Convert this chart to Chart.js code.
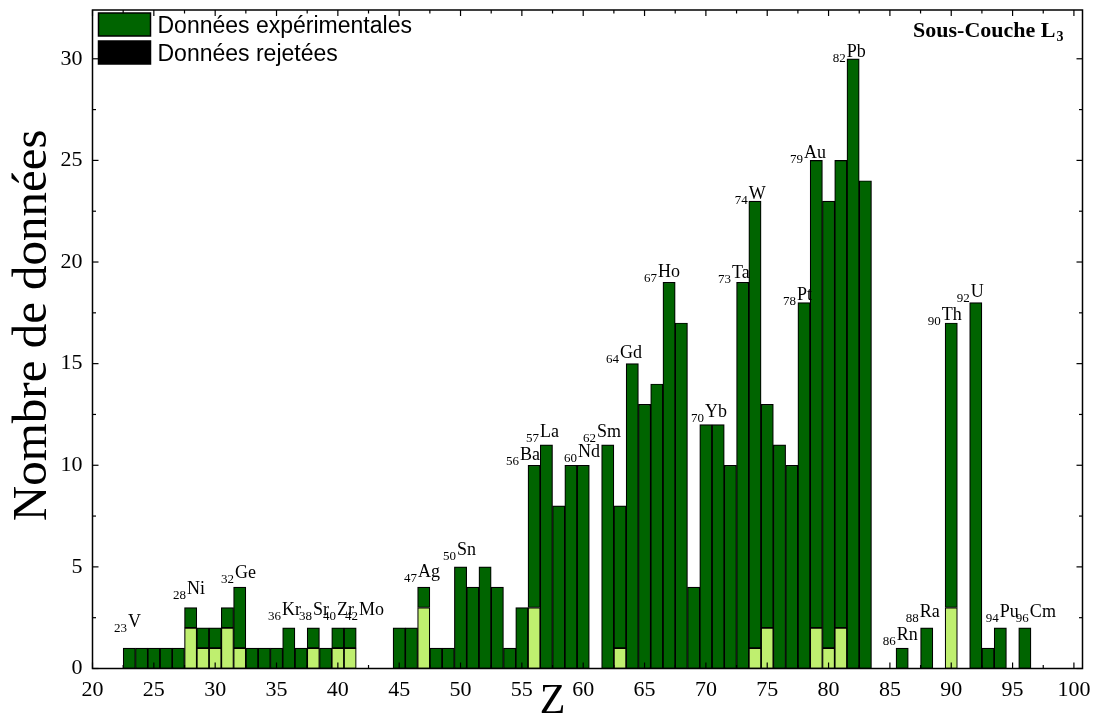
<!DOCTYPE html>
<html>
<head>
<meta charset="utf-8">
<script src="https://cdn.jsdelivr.net/npm/chart.js@4.4.1/dist/chart.umd.min.js"></script>
<style>
  html, body { margin: 0; padding: 0; background: #fff; }
</style>
</head>
<body>
<canvas id="chart" width="1096" height="715"></canvas>
<script>
// -- DATA --
// atomic numbers that have data
const zValues = [
  23, 24, 25, 26, 27, 28, 29, 30, 31, 32, 33, 34, 35, 36, 37, 38, 39, 40, 41,
  45, 46, 47, 48, 49, 50, 51, 52, 53, 54, 55, 56, 57, 58, 59, 60,
  62, 63, 64, 65, 66, 67, 68, 69, 70, 71, 72, 73, 74, 75, 76, 77, 78, 79, 80, 81, 82, 83,
  86, 88, 90, 92, 93, 94, 96
];
// total number of data per element
const totalCounts = [
  1, 1, 1, 1, 1, 3, 2, 2, 3, 4, 1, 1, 1, 2, 1, 2, 1, 2, 2,
  2, 2, 4, 1, 1, 5, 4, 5, 4, 1, 3, 10, 11, 8, 10, 10,
  11, 8, 15, 13, 14, 19, 17, 4, 12, 12, 10, 19, 23, 13, 11, 10, 18, 25, 23, 25, 30, 24,
  1, 2, 17, 18, 1, 2, 2
];
// rejected data (light green part, at the bottom of the bar)
const rejectedCounts = [
  0, 0, 0, 0, 0, 2, 1, 1, 2, 1, 0, 0, 0, 0, 0, 1, 0, 1, 1,
  0, 0, 3, 0, 0, 0, 0, 0, 0, 0, 0, 3, 0, 0, 0, 0,
  0, 1, 0, 0, 0, 0, 0, 0, 0, 0, 0, 0, 1, 2, 0, 0, 0, 2, 1, 2, 0, 0,
  0, 0, 3, 0, 0, 0, 0
];
const xTicks = [20, 25, 30, 35, 40, 45, 50, 55, 60, 65, 70, 75, 80, 85, 90, 95, 100];
const yTicks = [0, 5, 10, 15, 20, 25, 30];
const legendLabels = ["Données expérimentales", "Données rejetées"];

// element labels: atomic number, symbol, anchor (x, y) in axis units
const elementLabels = [
  { z: 23, s: "V", x: 22.89, y: 2.04 },
  { z: 28, s: "Ni", x: 27.70, y: 3.67 },
  { z: 32, s: "Ge", x: 31.61, y: 4.45 },
  { z: 36, s: "Kr", x: 35.44, y: 2.63 },
  { z: 38, s: "Sr", x: 37.97, y: 2.63 },
  { z: 40, s: "Zr", x: 39.93, y: 2.63 },
  { z: 42, s: "Mo", x: 41.72, y: 2.63 },
  { z: 47, s: "Ag", x: 46.53, y: 4.50 },
  { z: 50, s: "Sn", x: 49.71, y: 5.59 },
  { z: 56, s: "Ba", x: 54.84, y: 10.26 },
  { z: 57, s: "La", x: 56.47, y: 11.39 },
  { z: 60, s: "Nd", x: 59.57, y: 10.41 },
  { z: 62, s: "Sm", x: 61.12, y: 11.39 },
  { z: 64, s: "Gd", x: 62.99, y: 15.29 },
  { z: 67, s: "Ho", x: 66.09, y: 19.27 },
  { z: 70, s: "Yb", x: 69.92, y: 12.38 },
  { z: 73, s: "Ta", x: 72.12, y: 19.22 },
  { z: 74, s: "W", x: 73.50, y: 23.11 },
  { z: 78, s: "Pt", x: 77.42, y: 18.13 },
  { z: 79, s: "Au", x: 77.99, y: 25.12 },
  { z: 82, s: "Pb", x: 81.49, y: 30.09 },
  { z: 86, s: "Rn", x: 85.56, y: 1.40 },
  { z: 88, s: "Ra", x: 87.44, y: 2.53 },
  { z: 90, s: "Th", x: 89.23, y: 17.15 },
  { z: 92, s: "U", x: 91.60, y: 18.29 },
  { z: 94, s: "Pu", x: 93.96, y: 2.53 },
  { z: 96, s: "Cm", x: 96.41, y: 2.53 }
];

const DARK = "#006400";
const LIGHT = "#bfef6f";
const SERIF = "'Liberation Serif', 'Times New Roman', serif";
const SANS = "'Liberation Sans', Arial, sans-serif";

// rejected part at the bottom, remaining part stacked on top
const rejectedPoints = zValues.map((z, i) => ({ x: z, y: rejectedCounts[i] || null }));
const keptPoints = zValues.map((z, i) => ({ x: z, y: (totalCounts[i] - rejectedCounts[i]) || null }));

// draws inward ticks, frame, element labels, legend and titles
const decorPlugin = {
  id: "decor",
  afterDatasetsDraw(chart) {
    const ctx = chart.ctx;
    const a = chart.chartArea;
    const x = chart.scales.x;
    const y = chart.scales.y;

    function line(x1, y1, x2, y2) {
      ctx.beginPath();
      ctx.moveTo(x1, y1);
      ctx.lineTo(x2, y2);
      ctx.stroke();
    }

    ctx.save();
    ctx.strokeStyle = "#000";
    ctx.lineWidth = 1.2;

    // x ticks (bottom + top), major every 5, minor every 2.5
    for (let v = xTicks[0]; v <= xTicks[xTicks.length - 1]; v += 2.5) {
      const px = x.getPixelForValue(v);
      const len = xTicks.includes(v) ? 6 : 3.5;
      line(px, a.bottom, px, a.bottom - len);
      line(px, a.top, px, a.top + len);
    }
    // y ticks (left + right)
    for (let v = 0; v <= y.max; v += 2.5) {
      const py = y.getPixelForValue(v);
      const len = yTicks.includes(v) ? 6 : 3.5;
      line(a.left, py, a.left + len, py);
      line(a.right, py, a.right - len, py);
    }

    // frame
    ctx.lineWidth = 1.5;
    ctx.strokeRect(a.left, a.top, a.right - a.left, a.bottom - a.top);

    // element labels, e.g. 82Pb with the number as subscript
    ctx.fillStyle = "#000";
    ctx.textBaseline = "alphabetic";
    elementLabels.forEach((lab) => {
      const px = x.getPixelForValue(lab.x);
      const py = y.getPixelForValue(lab.y);
      ctx.font = "18px " + SERIF;
      ctx.textAlign = "left";
      ctx.fillText(lab.s, px, py);
      ctx.font = "13px " + SERIF;
      ctx.textAlign = "right";
      ctx.fillText(String(lab.z), px - 1, py + 5);
    });

    // legend (top-left, inside the plot)
    const colors = [DARK, "#000"];
    ctx.textAlign = "left";
    ctx.font = "23px " + SANS;
    legendLabels.forEach((text, i) => {
      const top = a.top + 3 + i * 28;
      ctx.fillStyle = colors[i];
      ctx.fillRect(a.left + 6, top, 52, 23);
      ctx.lineWidth = 1.5;
      ctx.strokeStyle = "#000";
      ctx.strokeRect(a.left + 6, top, 52, 23);
      ctx.fillStyle = "#000";
      ctx.fillText(text, a.left + 65, top + 20);
    });

    // panel title "Sous-Couche L3"
    ctx.font = "bold 22px " + SERIF;
    ctx.textAlign = "right";
    ctx.fillText("Sous-Couche L", a.right - 27, a.top + 27);
    ctx.font = "bold 14px " + SERIF;
    ctx.textAlign = "left";
    ctx.fillText("3", a.right - 26, a.top + 31);

    // axis titles
    ctx.font = "42px " + SERIF;
    ctx.textAlign = "center";
    ctx.fillText("Z", x.getPixelForValue(57.5), 713);

    ctx.translate(46, (a.top + a.bottom) / 2 - 14);
    ctx.rotate(-Math.PI / 2);
    ctx.font = "49px " + SERIF;
    ctx.fillText("Nombre de données", 0, 0);

    ctx.restore();
  }
};

document.addEventListener("DOMContentLoaded", function () {
  const ctx = document.getElementById("chart");

  new Chart(ctx, {
    type: "bar",
    data: {
      datasets: [
        {
          label: legendLabels[1],
          data: rejectedPoints,
          backgroundColor: LIGHT,
          borderColor: "#000",
          borderWidth: 1.2,
          borderSkipped: false,
          barPercentage: 1,
          categoryPercentage: 1
        },
        {
          label: legendLabels[0],
          data: keptPoints,
          backgroundColor: DARK,
          borderColor: "#000",
          borderWidth: 1.2,
          borderSkipped: false,
          barPercentage: 1,
          categoryPercentage: 1
        }
      ]
    },
    options: {
      responsive: false,
      animation: false,
      devicePixelRatio: 1,
      layout: { padding: { left: 0, right: 13.5, top: 10, bottom: 0 } },
      plugins: {
        legend: { display: false },
        tooltip: { enabled: false }
      },
      scales: {
        x: {
          type: "linear",
          min: 20,
          max: 100.7,
          offset: false,
          stacked: true,
          grid: { display: false, drawTicks: false },
          border: { display: false },
          afterFit: (scale) => {
            scale.height = 46.5;
            scale.paddingLeft = 0;
            scale.paddingRight = 0;
          },
          afterBuildTicks: (scale) => { scale.ticks = xTicks.map((v) => ({ value: v })); },
          ticks: {
            color: "#000",
            font: { family: SERIF, size: 22 },
            padding: 9,
            maxRotation: 0,
            autoSkip: false
          }
        },
        y: {
          min: 0,
          max: 32.4,
          stacked: true,
          grid: { display: false, drawTicks: false },
          border: { display: false },
          afterFit: (scale) => {
            scale.width = 92.5;
            scale.paddingTop = 0;
            scale.paddingBottom = 0;
          },
          afterBuildTicks: (scale) => { scale.ticks = yTicks.map((v) => ({ value: v })); },
          ticks: {
            color: "#000",
            font: { family: SERIF, size: 22 },
            padding: 10
          }
        }
      }
    },
    plugins: [decorPlugin]
  });
});
</script>
</body>
</html>
